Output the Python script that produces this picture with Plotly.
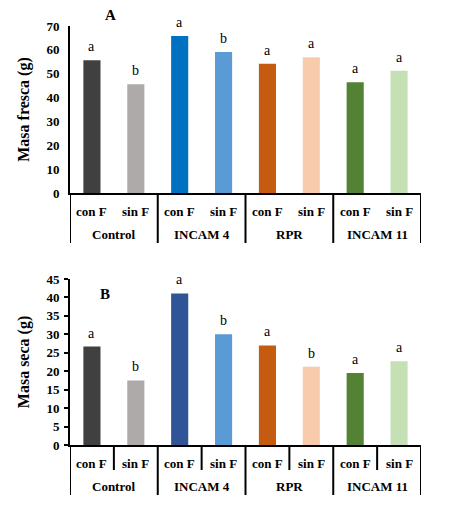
import plotly.graph_objects as go

# treatments and sub-treatments
groups = ['Control', 'Control', 'INCAM 4', 'INCAM 4', 'RPR', 'RPR', 'INCAM 11', 'INCAM 11']
subs = ['con F', 'sin F', 'con F', 'sin F', 'con F', 'sin F', 'con F', 'sin F']

masa_fresca = [55.6, 45.6, 65.8, 59.1, 54.2, 56.9, 46.4, 51.2]
letras_fresca = ['a', 'b', 'a', 'b', 'a', 'a', 'a', 'a']
masa_seca = [26.7, 17.5, 41.1, 30.0, 27.0, 21.2, 19.5, 22.7]
letras_seca = ['a', 'b', 'a', 'b', 'a', 'b', 'a', 'a']

colores_a = ['#404040', '#AEAAAA', '#0070C0', '#5B9BD5', '#C55A11', '#F8CBAD', '#548235', '#C5E0B4']
colores_b = ['#404040', '#AEAAAA', '#2F5597', '#5B9BD5', '#C55A11', '#F8CBAD', '#548235', '#C5E0B4']

FONT = 'Liberation Serif'
pos = list(range(len(subs)))
dom_a = [0.6014, 1]
dom_b = [0, 0.3962]

fig = go.Figure()
annotations = []
shapes = []


def add_panel(vals, letras, cols, xa, ya, dom, short_sep):
    fig.add_trace(go.Bar(x=pos, y=vals, width=0.39, marker=dict(color=cols, line=dict(width=0)),
                         xaxis=xa, yaxis=ya, showlegend=False, hoverinfo='y'))
    # significance letters above each bar
    for p, v, t in zip(pos, vals, letras):
        annotations.append(dict(x=p, y=v, xref=xa, yref=ya, text=t, showarrow=False,
                                yanchor='bottom', yshift=4,
                                font=dict(family=FONT, size=14, color='black')))
    # first row of labels: con F / sin F
    for p, s in zip(pos, subs):
        annotations.append(dict(x=p, y=0, xref=xa, yref=ya, text='<b>%s</b>' % s, showarrow=False,
                                yanchor='middle', yshift=-18,
                                font=dict(family=FONT, size=13, color='black')))
    # second row: treatment names, centred under their bars
    names = list(dict.fromkeys(groups))
    for g in names:
        idx = [p for p in pos if groups[p] == g]
        annotations.append(dict(x=sum(idx) / len(idx), y=0, xref=xa, yref=ya, text='<b>%s</b>' % g,
                                showarrow=False, yanchor='middle', yshift=-41,
                                font=dict(family=FONT, size=13, color='black')))
    # divider lines hanging below the axis
    for p in pos + [len(pos)]:
        edge = p - 0.5
        if p == 0 or p == len(pos) or groups[p] != groups[p - 1]:
            length = -50
        elif short_sep:
            length = -25
        else:
            continue
        shapes.append(dict(type='line', xref=xa, yref='paper', x0=edge, x1=edge,
                           ysizemode='pixel', yanchor=dom[0], y0=0, y1=length,
                           line=dict(color='black', width=2)))


add_panel(masa_fresca, letras_fresca, colores_a, 'x', 'y', dom_a, False)
add_panel(masa_seca, letras_seca, colores_b, 'x2', 'y2', dom_b, True)

annotations += [
    dict(text='<b>A</b>', x=0.114, y=1.0263, xref='paper', yref='paper', showarrow=False,
         xanchor='center', yanchor='middle', font=dict(family=FONT, size=15, color='black')),
    dict(text='<b>B</b>', x=0.0997, y=0.3604, xref='paper', yref='paper', showarrow=False,
         xanchor='center', yanchor='middle', font=dict(family=FONT, size=15, color='black')),
]

xcommon = dict(range=[-0.5, len(pos) - 0.5], showline=True, linecolor='black', linewidth=2,
               showticklabels=False, ticks='', showgrid=False, zeroline=False, automargin=False)
ycommon = dict(showline=True, linecolor='black', linewidth=2, showgrid=False, zeroline=False,
               automargin=False, tickprefix='<b>', ticksuffix='</b>',
               tickfont=dict(family=FONT, size=13, color='black'))
ytitle_font = dict(family=FONT, size=16, color='black')

# the page body adds 8px around the plot, so the figure is 8px smaller each way
fig.update_layout(
    template='none',
    width=442, height=501,
    margin=dict(l=62, r=29, t=18, b=64),
    plot_bgcolor='white', paper_bgcolor='white',
    xaxis=dict(domain=[0, 1], anchor='y', **xcommon),
    yaxis=dict(domain=dom_a, anchor='x', range=[0, 70], dtick=10, ticks='', ticklabelstandoff=6,
               title=dict(text='<b>Masa fresca (g)</b>', font=ytitle_font, standoff=13),
               **ycommon),
    xaxis2=dict(domain=[0, 1], anchor='y2', **xcommon),
    yaxis2=dict(domain=dom_b, anchor='x2', range=[0, 45], dtick=5, ticks='outside',
                ticklen=4, tickwidth=1.5, tickcolor='black', ticklabelstandoff=2,
                title=dict(text='<b>Masa seca (g)</b>', font=ytitle_font, standoff=13),
                **ycommon),
    annotations=annotations,
    shapes=shapes,
)

fig.write_html('out.html')
